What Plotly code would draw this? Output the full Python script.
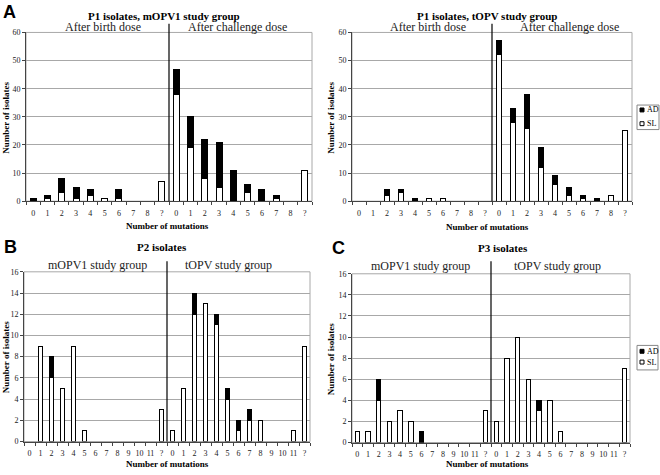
import plotly.graph_objects as go

# ---------------- data ----------------
p1_labels = ["0", "1", "2", "3", "4", "5", "6", "7", "8", "?",
             "0", "1", "2", "3", "4", "5", "6", "7", "8", "?"]
p1_mopv1_sl = [0, 1, 3, 1, 2, 1, 1, 0, 0, 7, 38, 19, 8, 5, 0, 3, 0, 1, 0, 11]
p1_mopv1_ad = [1, 1, 5, 4, 2, 0, 3, 0, 0, 0, 9, 11, 14, 16, 11, 3, 4, 1, 0, 0]
p1_topv_sl = [0, 0, 2, 3, 0, 1, 1, 0, 0, 0, 52, 28, 26, 12, 6, 2, 1, 0, 2, 25]
p1_topv_ad = [0, 0, 2, 1, 1, 0, 0, 0, 0, 0, 5, 5, 12, 7, 3, 3, 1, 1, 0, 0]

p23_labels = ["0", "1", "2", "3", "4", "5", "6", "7", "8", "9", "10", "11", "?",
              "0", "1", "2", "3", "4", "5", "6", "7", "8", "9", "10", "11", "?"]
p2_sl = [0, 9, 6, 5, 9, 1, 0, 0, 0, 0, 0, 0, 3, 1, 5, 12, 13, 11, 4, 1, 2, 2, 0, 0, 1, 9]
p2_ad = [0, 0, 2, 0, 0, 0, 0, 0, 0, 0, 0, 0, 0, 0, 0, 2, 0, 1, 1, 1, 1, 0, 0, 0, 0, 0]
p3_sl = [1, 1, 4, 2, 3, 2, 0, 0, 0, 0, 0, 0, 3, 2, 8, 10, 6, 3, 4, 1, 0, 0, 0, 0, 0, 7]
p3_ad = [0, 0, 2, 0, 0, 0, 1, 0, 0, 0, 0, 0, 0, 0, 0, 0, 0, 1, 0, 0, 0, 0, 0, 0, 0, 0]

W, H = 660, 475
SERIF = "Liberation Serif"
SANS = "Liberation Sans"


def px(x):
    return x / W


def py(y):
    return 1 - y / H


fig = go.Figure()
annotations = []
shapes = []


def add_panel(n, labels, sl, ad, xdom, ydom, ymax, dtick, groups, div_top):
    xs = list(range(len(labels)))
    xa = "x" if n == 1 else f"x{n}"
    ya = "y" if n == 1 else f"y{n}"
    fig.add_trace(go.Bar(
        x=xs, y=[v if v else None for v in sl], xaxis=xa, yaxis=ya,
        name="SL", width=0.42,
        marker=dict(color="white", line=dict(color="black", width=1)),
        showlegend=False))
    fig.add_trace(go.Bar(
        x=xs, y=[v if v else None for v in ad], xaxis=xa, yaxis=ya,
        name="AD", width=0.42,
        marker=dict(color="black", line=dict(color="black", width=1)),
        showlegend=False))
    key = "" if n == 1 else str(n)
    fig.update_layout(**{
        f"xaxis{key}": dict(
            domain=[px(xdom[0]), px(xdom[1])], anchor=ya,
            range=[-0.5, len(labels) - 0.5],
            tickmode="array", tickvals=xs, ticktext=labels,
            ticks="outside", ticklen=4, tickcolor="rgba(0,0,0,0)",
            tickfont=dict(family=SERIF, size=8, color="#222"),
            showline=True, linecolor="#444", linewidth=1,
            showgrid=False, zeroline=False, fixedrange=True,
            minor=dict(tickmode="array",
                       tickvals=[i - 0.5 for i in range(len(labels) + 1)],
                       ticks="outside", ticklen=3, tickcolor="#444",
                       showgrid=False),
        ),
        f"yaxis{key}": dict(
            domain=[py(ydom[1]), py(ydom[0])], anchor=xa,
            range=[0, ymax], dtick=dtick, tick0=0,
            ticks="outside", ticklen=3, tickcolor="#444",
            tickfont=dict(family=SERIF, size=8, color="#222"),
            showline=True, linecolor="#444", linewidth=1,
            showgrid=True, gridcolor="#a8a8a8", gridwidth=1,
            zeroline=False, fixedrange=True,
        ),
    })
    # plot-area border (grey)
    shapes.append(dict(type="rect", xref=f"{xa} domain", yref=f"{ya} domain",
                       x0=0, x1=1, y0=0, y1=1, line=dict(color="#a8a8a8", width=1),
                       layer="below"))
    # divider between the two groups
    mid = len(labels) / 2 - 0.5
    shapes.append(dict(type="line", xref=xa, yref=f"{ya} domain",
                       x0=mid, x1=mid, y0=0, y1=div_top,
                       line=dict(color="black", width=1.2)))
    for text, gx, gy in groups:
        annotations.append(dict(text=text, xref=f"{xa} domain", yref=f"{ya} domain",
                                x=gx, y=gy, showarrow=False,
                                xanchor="center", yanchor="middle",
                                font=dict(family=SERIF, size=12, color="#222")))


add_panel(1, p1_labels, p1_mopv1_sl, p1_mopv1_ad, (26, 312), (29, 201), 60, 10,
          [("After birth dose", 0.27, 1.03), ("After challenge dose", 0.74, 1.03)], 1.052)
add_panel(2, p1_labels, p1_topv_sl, p1_topv_ad, (352, 632), (29, 201), 60, 10,
          [("After birth dose", 0.27, 1.03), ("After challenge dose", 0.775, 1.03)], 1.052)
add_panel(3, p23_labels, p2_sl, p2_ad, (24, 310), (273, 446), 16, 2,
          [("mOPV1 study group", 0.256, 1.04), ("tOPV study group", 0.716, 1.04)], 1.063)
add_panel(4, p23_labels, p3_sl, p3_ad, (352, 630), (275, 447), 16, 2,
          [("mOPV1 study group", 0.245, 1.045), ("tOPV study group", 0.74, 1.045)], 1.075)


def ann(text, x, y, size, bold=True, family=SERIF, angle=0):
    annotations.append(dict(
        text=f"<b>{text}</b>" if bold else text, xref="paper", yref="paper",
        x=px(x), y=py(y), showarrow=False, textangle=angle,
        xanchor="center", yanchor="middle",
        font=dict(family=family, size=size, color="black")))


# panel letters
ann("A", 9, 8, 18, family=SANS)
ann("B", 10, 248, 18, family=SANS)
ann("C", 338, 249, 18, family=SANS)
# titles
ann("P1 isolates, mOPV1 study group", 164, 12, 11)
ann("P1 isolates, tOPV study group", 487, 12, 11)
ann("P2 isolates", 162, 248, 11)
ann("P3 isolates", 503, 249, 11)
# x titles
ann("Number of mutations", 168, 226, 9)
ann("Number of mutations", 487, 227, 9)
ann("Number of mutations", 167, 469, 9)
ann("Number of mutations", 487, 469, 9)
# y titles
ann("Number of isolates", 6, 116, 9, angle=-90)
ann("Number of isolates", 331, 116, 9, angle=-90)
ann("Number of isolates", 6, 360, 9, angle=-90)
ann("Number of isolates", 331, 362, 9, angle=-90)

# legends (AD / SL keys)
legend_names = ["AD", "SL"]
legend_fills = ["black", "white"]
for (bx0, by0, bx1, by1, rows) in [(637, 103, 659, 128, (108, 122)),
                                   (637, 348, 658, 373, (354, 365))]:
    shapes.append(dict(type="rect", xref="paper", yref="paper",
                       x0=px(bx0), x1=px(bx1), y0=py(by1), y1=py(by0),
                       line=dict(color="#888", width=1), fillcolor="white"))
    for name, fill, ry in zip(legend_names, legend_fills, rows):
        shapes.append(dict(type="rect", xref="paper", yref="paper",
                           x0=px(bx0 + 3), x1=px(bx0 + 7), y0=py(ry + 2), y1=py(ry - 2),
                           line=dict(color="black", width=1), fillcolor=fill))
        annotations.append(dict(text=name, xref="paper", yref="paper",
                                x=px(bx0 + 8), y=py(ry), xanchor="left", yanchor="middle",
                                showarrow=False,
                                font=dict(family=SERIF, size=8, color="black")))

fig.update_layout(
    width=W, height=H, margin=dict(l=0, r=0, t=0, b=0),
    paper_bgcolor="white", plot_bgcolor="white",
    barmode="stack", bargap=0.55, showlegend=False,
    annotations=annotations, shapes=shapes,
)

fig.write_html("out.html", config={"displayModeBar": False},
               post_script="document.body.style.margin='0';")
